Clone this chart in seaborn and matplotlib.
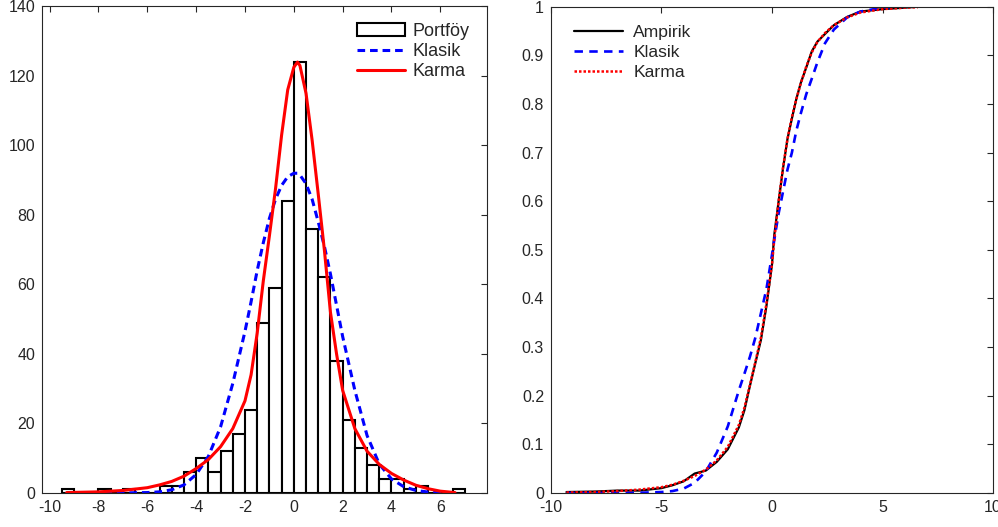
import numpy as np
import pandas as pd
import matplotlib
matplotlib.use("Agg")
import matplotlib.pyplot as plt
from matplotlib.patches import Patch
from matplotlib.lines import Line2D
import seaborn as sns

# histogram of the portfolio returns (left bin edges, width 0.5)
bin_left = [-9.5, -9, -8.5, -8, -7.5, -7, -6.5, -6, -5.5, -5, -4.5, -4, -3.5,
            -3, -2.5, -2, -1.5, -1, -0.5, 0, 0.5, 1, 1.5, 2, 2.5, 3, 3.5, 4,
            4.5, 5, 5.5, 6, 6.5]
bin_counts = [1, 0, 0, 1, 0, 1, 0, 0, 2, 2, 6, 10, 6, 12, 17, 24, 49, 59, 84,
              124, 76, 62, 38, 21, 13, 8, 4, 4, 1, 2, 0, 0, 1]
bin_width = 0.5

# fitted densities
pdf_x = [-9.3, -8, -7, -6, -5.5, -5, -4.5, -4, -3.5, -3, -2.5, -2, -1.75, -1.5,
         -1.25, -1, -0.75, -0.5, -0.25, 0, 0.15, 0.25, 0.5, 0.75, 1, 1.25, 1.5,
         1.75, 2, 2.5, 3, 3.5, 4, 4.5, 5, 5.5, 6, 6.6]
pdf_klasik = [0, 0, 0, 0.1, 0.3, 0.9, 2.3, 5.3, 10.5, 19, 31.5, 46.5, 55, 64,
              72, 79, 84.5, 88.5, 91, 92, 92, 91.5, 89, 84.5, 78, 71, 63, 54,
              45, 29.5, 16.5, 8.3, 4.0, 1.8, 0.7, 0.25, 0.1, 0]
pdf_karma = [0.1, 0.3, 0.7, 1.5, 2.3, 3.3, 4.8, 7.0, 9.6, 13.3, 18.5, 26.5, 34,
             46, 61, 74, 87.5, 103, 116, 122.5, 124, 123, 115, 101.5, 86, 70,
             52, 40, 29.5, 18.5, 12, 8.2, 5.6, 3.7, 2.2, 1.2, 0.5, 0.1]

# cumulative distributions
cdf_x = [-9.3, -8, -7, -6, -5, -4.5, -4, -3.5, -3, -2.5, -2, -1.5, -1.25, -1,
         -0.75, -0.5, -0.25, 0, 0.1, 0.3, 0.5, 0.7, 0.9, 1.1, 1.3, 1.55, 1.8,
         2.05, 2.4, 2.8, 3.4, 4, 5, 6, 6.6]
cdf_ampirik = [0.002, 0.003, 0.005, 0.005, 0.010, 0.016, 0.024, 0.040, 0.046,
               0.064, 0.09, 0.135, 0.17, 0.22, 0.268, 0.315, 0.385, 0.47, 0.53,
               0.60, 0.668, 0.728, 0.77, 0.81, 0.843, 0.875, 0.908, 0.928,
               0.944, 0.962, 0.979, 0.99, 0.995, 0.998, 1.0]
cdf_klasik = [0.0, 0.0, 0.0, 0.0005, 0.002, 0.004, 0.009, 0.021, 0.044, 0.083,
              0.137, 0.211, 0.245, 0.28, 0.32, 0.37, 0.42, 0.49, 0.52, 0.575,
              0.62, 0.665, 0.70, 0.745, 0.78, 0.82, 0.852, 0.885, 0.925, 0.953,
              0.978, 0.99, 0.998, 1.0, 1.0]
cdf_karma = [0.001, 0.002, 0.004, 0.007, 0.012, 0.017, 0.025, 0.035, 0.048,
             0.067, 0.095, 0.14, 0.175, 0.222, 0.27, 0.32, 0.39, 0.47, 0.52,
             0.60, 0.67, 0.728, 0.773, 0.81, 0.842, 0.877, 0.906, 0.927, 0.946,
             0.962, 0.978, 0.988, 0.995, 0.998, 0.999]

xt_left = [-10, -8, -6, -4, -2, 0, 2, 4, 6]
yt_left = [0, 20, 40, 60, 80, 100, 120, 140]
xt_right = [-10, -5, 0, 5, 10]
yt_right = [0, 0.1, 0.2, 0.3, 0.4, 0.5, 0.6, 0.7, 0.8, 0.9, 1]
yt_right_labels = ['0', '0.1', '0.2', '0.3', '0.4', '0.5', '0.6', '0.7',
                   '0.8', '0.9', '1']

sns.set_theme(style="white")
plt.rcParams['font.family'] = ['Liberation Sans', 'DejaVu Sans']
plt.rcParams['axes.unicode_minus'] = False

dark = '#262626'
klasik_dash = (0, (2.5, 1.6))

fig = plt.figure(figsize=(9.98, 5.27), dpi=100)
ax1 = fig.add_axes([0.0424, 0.0647, 0.4453, 0.9230])
ax2 = fig.add_axes([0.5521, 0.0645, 0.4429, 0.9228])

# left panel: histogram + fitted densities
edges = bin_left + [bin_left[-1] + bin_width]
mids = [b + bin_width / 2 for b in bin_left]
sns.histplot(x=mids, weights=bin_counts, bins=edges, ax=ax1, color='white',
             edgecolor='black', linewidth=1.5, alpha=1)
sns.lineplot(x=pdf_x, y=pdf_klasik, ax=ax1, color='blue', linewidth=2.2,
             linestyle=klasik_dash, sort=False)
sns.lineplot(x=pdf_x, y=pdf_karma, ax=ax1, color='red', linewidth=2.2,
             sort=False)

ax1.set_xlim(-10.3, 7.9)
ax1.set_ylim(0, 140)
ax1.set_xticks(xt_left)
ax1.set_xticklabels([str(v) for v in xt_left])
ax1.set_yticks(yt_left)
ax1.set_yticklabels([str(v) for v in yt_left])

h1 = [Patch(facecolor='white', edgecolor='black', linewidth=1.5),
      Line2D([], [], color='blue', linewidth=2.2, linestyle=klasik_dash),
      Line2D([], [], color='red', linewidth=2.2)]
ax1.legend(h1, ['Portföy', 'Klasik', 'Karma'], loc='upper left',
           bbox_to_anchor=(0.7075, 0.966), frameon=False, fontsize=13,
           handlelength=2.7, handletextpad=0.37, labelspacing=0.17,
           borderpad=0, borderaxespad=0)

# right panel: cumulative distributions
sns.lineplot(x=cdf_x, y=cdf_ampirik, ax=ax2, color='black', linewidth=1.6,
             sort=False)
sns.lineplot(x=cdf_x, y=cdf_klasik, ax=ax2, color='blue', linewidth=1.9,
             linestyle=(0, (3.2, 2.4)), sort=False)
sns.lineplot(x=cdf_x, y=cdf_karma, ax=ax2, color='red', linewidth=1.8,
             linestyle=(0, (1, 0.8)), sort=False)

ax2.set_xlim(-10, 10)
ax2.set_ylim(0, 1)
ax2.set_xticks(xt_right)
ax2.set_xticklabels([str(v) for v in xt_right])
ax2.set_yticks(yt_right)
ax2.set_yticklabels(yt_right_labels)

h2 = [Line2D([], [], color='black', linewidth=1.6),
      Line2D([], [], color='blue', linewidth=1.9, linestyle=(0, (3.2, 2.4))),
      Line2D([], [], color='red', linewidth=1.8, linestyle=(0, (1, 0.8)))]
ax2.legend(h2, ['Ampirik', 'Klasik', 'Karma'], loc='upper left',
           bbox_to_anchor=(0.053, 0.962), frameon=False, fontsize=12.6,
           handlelength=2.77, handletextpad=0.6, labelspacing=0.27,
           borderpad=0, borderaxespad=0)

for ax in (ax1, ax2):
    ax.set_xlabel('')
    ax.set_ylabel('')
    ax.tick_params(direction='in', top=True, right=True, length=4, width=0.8,
                   color=dark, labelcolor=dark, labelsize=11.5, pad=5)
    for sp in ax.spines.values():
        sp.set_color(dark)
        sp.set_linewidth(0.8)

fig.savefig('out.png', dpi=100)
